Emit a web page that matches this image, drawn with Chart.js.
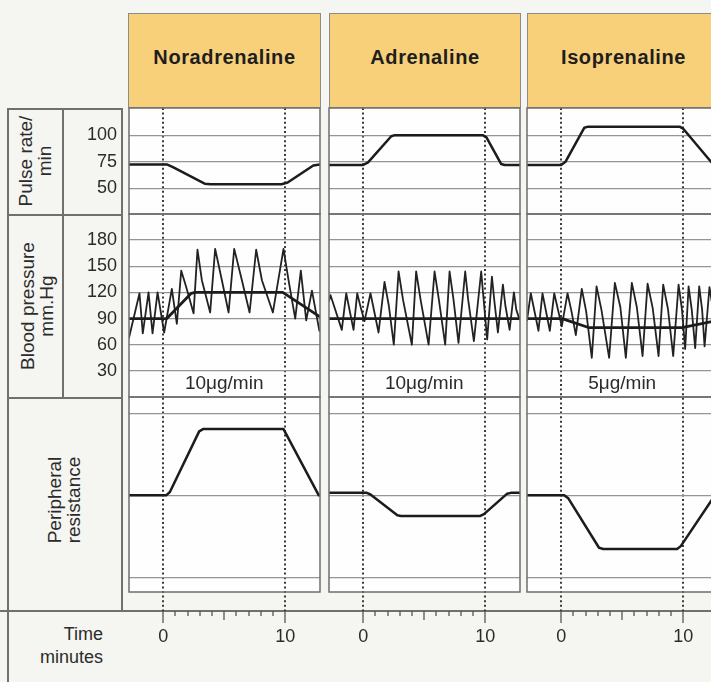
<!DOCTYPE html>
<html>
<head>
<meta charset="utf-8">
<script src="https://cdn.jsdelivr.net/npm/chart.js@4.4.1/dist/chart.umd.min.js"></script>
<style>
html, body { margin: 0; padding: 0; }
body {
    width: 711px; height: 682px; overflow: hidden; position: relative;
    background: #f5f5f1;
    font-family: "Liberation Sans", Arial, sans-serif; color: #2b2b2b;
}
.line { position: absolute; background: #707070; }
.hdr {
    position: absolute; top: 13px; height: 95px; box-sizing: border-box;
    background: #f8d07a; border: 1px solid #8c8c8c;
    font-weight: bold; font-size: 20px; letter-spacing: 0.6px;
    text-align: center; line-height: 86px; color: #1e1e1e;
}
.rot {
    position: absolute; transform: rotate(-90deg); text-align: center;
    font-size: 19px; line-height: 19px;
}
canvas { position: absolute; }
</style>
</head>
<body>

<!-- left label column -->
<div class="line" style="left:7px;top:108px;width:1.5px;height:574px"></div>
<div class="line" style="left:121px;top:108px;width:1.5px;height:503px"></div>
<div class="line" style="left:7px;top:108px;width:115px;height:1.5px"></div>
<div class="line" style="left:7px;top:214px;width:115px;height:1.5px"></div>
<div class="line" style="left:7px;top:397px;width:115px;height:1.5px"></div>
<div class="line" style="left:62px;top:108px;width:1.5px;height:290px"></div>
<div class="line" style="left:0;top:610px;width:711px;height:1.5px"></div>

<div class="rot" style="left:-18px;top:142px;width:106px;height:38px">Pulse rate/<br>min</div>
<div class="rot" style="left:-53px;top:287px;width:180px;height:38px">Blood pressure<br>mm.Hg</div>
<div class="rot" style="left:-36px;top:481px;width:200px;height:38px">Peripheral<br>resistance</div>
<div style="position:absolute;left:0;top:623px;width:103px;text-align:right;font-size:18px;line-height:23px">Time<br>minutes</div>

<div id="headers"></div>
<canvas id="c0" width="258" height="576" style="left:63px;top:106px"></canvas>
<canvas id="c1" width="193" height="576" style="left:328px;top:106px"></canvas>
<canvas id="c2" width="193" height="576" style="left:526px;top:106px"></canvas>

<script>
const drugs = ['Noradrenaline', 'Adrenaline', 'Isoprenaline'];
const doses = ['10μg/min', '10μg/min', '5μg/min'];

const pulseTicks = [50, 75, 100];
const bpTicks = [30, 60, 90, 120, 150, 180];
const resTicks = [0, 50, 100];
const timeTicks = [0, 1, 2, 3, 4, 5, 6, 7, 8, 9, 10];
const timeLabels = [0, 10];

// [minutes, value]
const noraPulse = [[-2.8,72.5],[0.3,72.5],[0.8,70],[3.4,54.5],[3.9,54],[9.7,54],[10.2,55.5],[12.3,71.5],[12.85,72.5]];
const noraBpMean = [[-2.8,90],[0.3,90],[2.3,119],[2.6,120],[9.8,120],[12.85,92]];
const noraBpTrace = [[-2.8,68],[-1.94,119],[-1.67,73],[-1.2,120],[-0.87,73],[-0.46,120],[0.08,74],[0.71,124],[1.12,84],
    [1.48,145],[1.85,128],[2.49,96],[2.81,169],[3.17,134],[3.85,97],[4.26,170],[4.81,134],[5.36,97],[5.82,170],
    [6.45,134],[7.08,97],[7.62,169],[8.09,134],[8.99,97],[9.86,170],[10.27,134],[10.82,90],[11.28,145],[11.72,88],
    [12.19,122],[12.8,76]];
const noraRes = [[-2.8,50],[0.25,50],[0.55,52],[2.95,89],[3.3,90.5],[9.85,90.5],[12.75,50],[12.85,50]];

const adrPulse = [[-2.8,72],[0,72],[0.4,74.5],[2.3,99],[2.6,100],[9.8,100],[10.1,98],[11.3,73],[11.6,72],[12.85,72]];
const adrBpMean = [[-2.8,90],[12.85,90]];
const adrBpTrace = [[-2.8,110],[-2.68,117],[-1.75,77],[-1.39,119],[-0.79,77],[-0.49,119],[-0.15,100],[0.11,87],
    [0.6,119],[1.26,74],[1.75,132],[2.1,105],[2.51,60],[2.9,144],[3.26,112],[3.99,60],[4.34,144],[4.7,112],
    [5.36,60],[5.85,144],[6.2,112],[6.72,60],[7.08,144],[7.4,112],[7.81,62],[8.36,144],[8.6,112],[9.07,64],
    [9.67,144],[9.85,115],[10.16,66],[10.55,138],[10.75,110],[11.04,74],[11.45,129],[11.65,105],[12.0,77],
    [12.35,120],[12.55,100],[12.81,89]];
const adrRes = [[-2.8,51.5],[0.3,51.5],[0.6,50.5],[2.8,37.8],[3.1,37.4],[9.6,37.4],[9.9,38.5],[11.8,51],[12.1,51.5],[12.85,51.5]];

const isoPulse = [[-2.8,72],[0,72],[0.35,75],[1.9,107],[2.2,108],[9.7,108],[10.0,106],[12.5,72],[12.85,72]];
const isoBpMean = [[-2.8,90],[0.1,90],[0.5,88],[2.3,79.5],[9.9,79.5],[12.85,88]];
const isoBpTrace = [[-2.8,88],[-2.49,119],[-1.86,76],[-1.53,119],[-0.93,76],[-0.57,119],[0.05,81],[0.52,119],
    [0.85,98],[1.2,71],[1.69,124],[2.05,98],[2.51,45],[2.9,127],[3.3,100],[3.93,45],[4.4,131],[4.85,103],
    [5.3,45],[5.79,131],[6.2,103],[6.67,47],[7.08,130],[7.5,102],[7.98,47],[8.36,129],[8.75,101],[9.18,47],
    [9.62,129],[9.9,100],[10.16,55],[10.44,127],[10.7,100],[10.98,56],[11.31,127],[11.55,100],[11.75,58],
    [12.15,126],[12.45,100],[12.75,60]];
const isoRes = [[-2.8,50],[0.25,50],[0.6,48],[3.1,18],[3.45,17.2],[9.5,17.2],[9.8,19],[12.6,50],[12.85,50]];

const pulseData = [noraPulse, adrPulse, isoPulse];
const bpMeanData = [noraBpMean, adrBpMean, isoBpMean];
const bpTraceData = [noraBpTrace, adrBpTrace, isoBpTrace];
const resData = [noraRes, adrRes, isoRes];

const headerLeft = [128, 329, 527];
const headerWidth = [193, 192, 193];

Chart.defaults.font.family = '"Liberation Sans", Arial, sans-serif';
Chart.defaults.font.size = 18;
Chart.defaults.color = '#2b2b2b';

// white panels behind the grid, frames and dose text on top
const panelFrames = {
    id: 'panelFrames',
    beforeDraw(chart) {
        const { ctx, chartArea: a, scales } = chart;
        ctx.save();
        ctx.fillStyle = '#fefefe';
        ['yP', 'yB', 'yR'].forEach(id => {
            const s = scales[id];
            ctx.fillRect(a.left, s.top, a.right - a.left, s.bottom - s.top);
        });
        ctx.restore();
    },
    afterDatasetsDraw(chart, args, opts) {
        const { ctx, chartArea: a, scales } = chart;
        ctx.save();
        ctx.strokeStyle = '#6e6e6e';
        ctx.lineWidth = 1.5;
        ['yP', 'yB', 'yR'].forEach(id => {
            const s = scales[id];
            ctx.strokeRect(a.left, s.top, a.right - a.left, s.bottom - s.top);
        });
        ctx.fillStyle = '#2b2b2b';
        ctx.font = '19px "Liberation Sans", Arial, sans-serif';
        ctx.textAlign = 'center';
        ctx.textBaseline = 'middle';
        ctx.fillText(opts.dose, scales.x.getPixelForValue(5), scales.yB.getPixelForValue(15));
        ctx.restore();
    }
};

function toXY(pairs) {
    return pairs.map(p => ({ x: p[0], y: p[1] }));
}

function rowScale(weight, stackWeight, min, max, ticks, labelW, showLabels) {
    return {
        type: 'linear', position: 'left', stack: 'rows', stackWeight: stackWeight, weight: weight,
        min: min, max: max,
        afterBuildTicks: s => { s.ticks = ticks.map(v => ({ value: v })); },
        afterFit: s => {
            s.width = labelW;
            s.paddingTop = 0;
            s.paddingBottom = 0;
        },
        grid: { display: ticks.length > 0, color: '#959595', lineWidth: 1.3, drawTicks: false },
        border: { display: false },
        ticks: { display: showLabels, autoSkip: false, padding: 12, font: { size: 18 }, color: '#2b2b2b' }
    };
}

var charts = [];

function createCharts() {
    const headers = document.getElementById('headers');
    drugs.forEach((name, i) => {
        const h = document.createElement('div');
        h.className = 'hdr';
        h.style.left = headerLeft[i] + 'px';
        h.style.width = headerWidth[i] + 'px';
        h.textContent = name;
        headers.appendChild(h);
    });

    for (let i = 0; i < 3; i++) {
        const labelW = i === 0 ? 66 : 0;
        const chart = new Chart(document.getElementById('c' + i), {
            type: 'line',
            data: {
                datasets: [
                    { data: toXY(pulseData[i]), yAxisID: 'yP', borderColor: '#1c1c1c', borderWidth: 2.5 },
                    { data: toXY(bpMeanData[i]), yAxisID: 'yB', borderColor: '#1c1c1c', borderWidth: 2.8 },
                    { data: toXY(bpTraceData[i]), yAxisID: 'yB', borderColor: '#222', borderWidth: 1.8 },
                    { data: toXY(resData[i]), yAxisID: 'yR', borderColor: '#1c1c1c', borderWidth: 2.5 }
                ]
            },
            options: {
                responsive: false,
                animation: false,
                layout: { padding: { top: 2, left: i === 0 ? 0 : 1, right: 1, bottom: 0 } },
                elements: {
                    point: { radius: 0 },
                    line: { tension: 0, borderJoinStyle: 'round', borderCapStyle: 'round' }
                },
                plugins: {
                    legend: { display: false },
                    tooltip: { enabled: false },
                    panelFrames: { dose: doses[i] }
                },
                scales: {
                    x: {
                        type: 'linear', position: 'bottom', min: -2.8, max: 12.85,
                        afterBuildTicks: s => { s.ticks = timeTicks.map(v => ({ value: v })); },
                        afterFit: s => {
                            s.height = 71;
                            s.paddingLeft = 0;
                            s.paddingRight = 0;
                        },
                        grid: {
                            color: c => (c.tick && timeLabels.includes(c.tick.value)) ? '#3a3a3a' : 'rgba(0,0,0,0)',
                            lineWidth: 2,
                            tickLength: 12,
                            tickColor: '#555',
                            tickWidth: 1.3,
                            tickBorderDash: c => {
                                const v = c.tick ? c.tick.value : 0;
                                if (timeLabels.includes(v)) return [];
                                return v === 5 ? [9, 40] : [5, 40];
                            }
                        },
                        border: { display: false, dash: [2, 2.6] },
                        ticks: {
                            autoSkip: false, maxRotation: 0, padding: 3,
                            callback: v => timeLabels.includes(v) ? String(v) : ''
                        }
                    },
                    yP: rowScale(4, 106, 26, 125.5, pulseTicks, labelW, i === 0),
                    yB: rowScale(3, 183, 0, 210, bpTicks, labelW, i === 0),
                    yR: rowScale(2, 195, -9, 110, resTicks, labelW, false),
                    yS: rowScale(1, 19, 0, 1, [], labelW, false)
                }
            },
            plugins: [panelFrames]
        });
        charts.push(chart);
    }
}

createCharts();
</script>
</body>
</html>
